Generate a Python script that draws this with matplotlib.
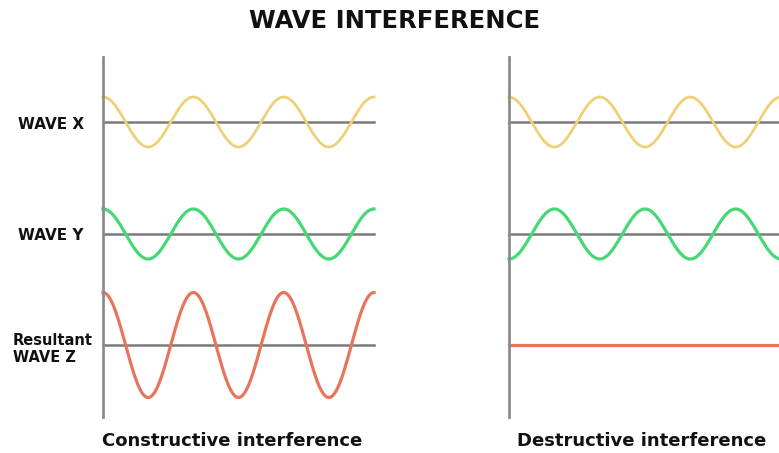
import matplotlib.pyplot as plt
import numpy as np

# 波のパラメータ (振幅, 位相, 周期数)
cycles = 3
amp_x = 1.0
amp_y = 1.0
phase_x = 0.0
phase_y_constructive = 0.0
phase_y_destructive = np.pi

row_labels = ["WAVE X", "WAVE Y", "Resultant\nWAVE Z"]
panel_titles = ["Constructive interference", "Destructive interference"]
title = "WAVE INTERFERENCE"

color_x = "#efd077"
color_y = "#45d874"
color_z = "#e8745c"
axis_grey = "#8c8c8c"
base_grey = "#7a7a7a"

plt.rcParams["font.family"] = ["DejaVu Sans"]

W, H = 779, 453
fig = plt.figure(figsize=(W / 100, H / 100), dpi=100)

# 行の中心 (下端からの振幅単位: 25px = 1)
offsets = [11.8, 7.32, 2.88]
ytop = 14.4


def make_panel(left_px, right_px, phase_y):
    ax = fig.add_axes([left_px / W, (H - 417) / H, (right_px - left_px) / W, 360 / H])
    t = np.linspace(0, cycles, 600)
    wx = amp_x * np.cos(2 * np.pi * t + phase_x)
    wy = amp_y * np.cos(2 * np.pi * t + phase_y)
    wz = wx + wy
    for off in offsets:
        ax.axhline(off, color=base_grey, lw=1.8, zorder=1)
    ax.plot(t, wx + offsets[0], color=color_x, lw=2.0, zorder=2)
    ax.plot(t, wy + offsets[1], color=color_y, lw=2.3, zorder=2)
    ax.plot(t, 1.05 * wz + offsets[2], color=color_z, lw=2.3, zorder=2)
    ax.set_xlim(0, cycles)
    ax.set_ylim(0, ytop)
    for s in ["top", "right", "bottom"]:
        ax.spines[s].set_visible(False)
    ax.spines["left"].set_color(axis_grey)
    ax.spines["left"].set_linewidth(2.0)
    ax.set_xticks([])
    ax.set_yticks([])
    for line in ax.lines:
        line.set_clip_on(False)
    return ax


ax1 = make_panel(103, 374, phase_y_constructive)
ax2 = make_panel(509, 781, phase_y_destructive)

fig.text(395 / W, 1 - 21 / H, title, ha="center", va="center",
         fontsize=17.5, fontweight="bold", color="#111111")

label_x = [18, 18, 13]
label_y = [124, 236, 349]
label_size = [11, 11, 10.5]
for lab, x, y, fs in zip(row_labels, label_x, label_y, label_size):
    fig.text(x / W, 1 - y / H, lab, ha="left", va="center",
             fontsize=fs, fontweight="bold", linespacing=1.15, color="#111111")

fig.text(232 / W, 1 - 441 / H, panel_titles[0], ha="center", va="center",
         fontsize=13, fontweight="bold", color="#111111")
fig.text(642 / W, 1 - 441 / H, panel_titles[1], ha="center", va="center",
         fontsize=13, fontweight="bold", color="#111111")

fig.savefig("out.png", dpi=100)
